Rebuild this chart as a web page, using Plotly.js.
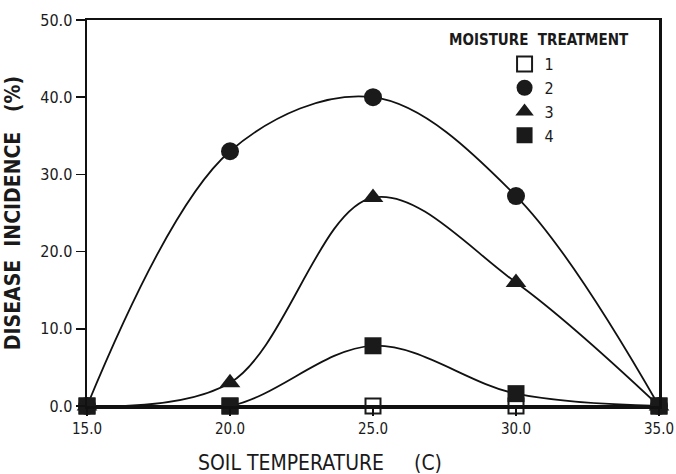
<!DOCTYPE html>
<html>
<head>
<meta charset="utf-8">
<script src="https://cdn.plot.ly/plotly-3.0.1.min.js"></script>
<style>html,body{margin:0;padding:0;background:#fff;}#chart{width:676px;height:474px;}</style>
</head>
<body>
<div id="chart"></div>
<script>
const temperature = [15, 20, 25, 30, 35];
const treatmentNames = ['1', '2', '3', '4'];
const treatment1 = [0, 0, 0, 0, 0];
const treatment2 = [0, 33, 40, 27.2, 0];
const treatment3 = [0, 3, 27, 16, 0];
const treatment4 = [0, 0, 7.8, 1.6, 0];
const yTickVals = [0, 10, 20, 30, 40, 50];
const xTickVals = [15, 20, 25, 30, 35];
const xTitle = 'SOIL TEMPERATURE &nbsp;&nbsp;&nbsp;&nbsp;(C)';
const yTitle = '<b>DISEASE &nbsp;INCIDENCE &nbsp;&nbsp;(%)</b>';
const legendTitle = '<b>MOISTURE &nbsp;TREATMENT</b>';

const seriesList = [treatment1, treatment2, treatment3, treatment4];
const symbols = ['square-open', 'circle', 'triangle-up', 'square'];
const sizes = [15, 18, 18, 17];
const FONT = '"DejaVu Sans Condensed", "Liberation Sans Narrow", Arial, sans-serif';

const traces = [];
seriesList.forEach((ys, i) => {
  traces.push({
    x: temperature, y: ys, mode: 'lines', type: 'scatter',
    line: {color: '#111', width: 1.8, shape: 'spline', smoothing: 1},
    showlegend: false, hoverinfo: 'skip', cliponaxis: false
  });
});
seriesList.forEach((ys, i) => {
  traces.push({
    x: temperature, y: ys, mode: 'markers', type: 'scatter',
    name: treatmentNames[i],
    marker: {symbol: symbols[i], size: sizes[i], color: '#1a1a1a',
             line: {color: '#1a1a1a', width: i === 0 ? 2 : 0}},
    cliponaxis: false
  });
});

const layout = {
  width: 676, height: 474,
  margin: {l: 87, r: 17, t: 20, b: 68},
  paper_bgcolor: '#fff', plot_bgcolor: '#fff',
  font: {family: FONT, color: '#1a1a1a', size: 15},
  xaxis: {
    range: [15, 35], tickvals: xTickVals, tickformat: '.1f',
    showgrid: false, zeroline: false, showline: true, linecolor: '#111', linewidth: 2.5,
    mirror: true, ticks: 'outside', ticklen: 7, tickwidth: 1.5, tickcolor: '#111',
    tickfont: {size: 15, family: FONT}, ticklabeloverflow: 'allow', automargin: false
  },
  yaxis: {
    range: [0, 50], tickvals: yTickVals, tickformat: '.1f',
    showgrid: false, zeroline: false, showline: true, linecolor: '#111', linewidth: 2.5,
    mirror: true, ticks: 'outside', ticklen: 9, tickwidth: 1.5, tickcolor: '#111',
    tickfont: {size: 16, family: FONT},
    title: {text: yTitle, font: {size: 21, family: FONT}, standoff: 14}
  },
  legend: {
    x: 0.73, y: 0.93, xanchor: 'left', yanchor: 'top',
    bgcolor: 'rgba(0,0,0,0)', borderwidth: 0,
    font: {size: 16, family: FONT},
    tracegroupgap: 0, itemwidth: 30
  },
  annotations: [
    {text: legendTitle, xref: 'paper', yref: 'paper', x: 0.79, y: 0.948,
     xanchor: 'center', yanchor: 'middle', showarrow: false, font: {size: 15, family: FONT}},
    {text: xTitle, xref: 'paper', yref: 'paper', x: 0.408, y: -0.148,
     xanchor: 'center', yanchor: 'middle', showarrow: false, font: {size: 21, family: FONT}}
  ]
};

Plotly.newPlot('chart', traces, layout, {displayModeBar: false, staticPlot: true});
</script>
</body>
</html>
